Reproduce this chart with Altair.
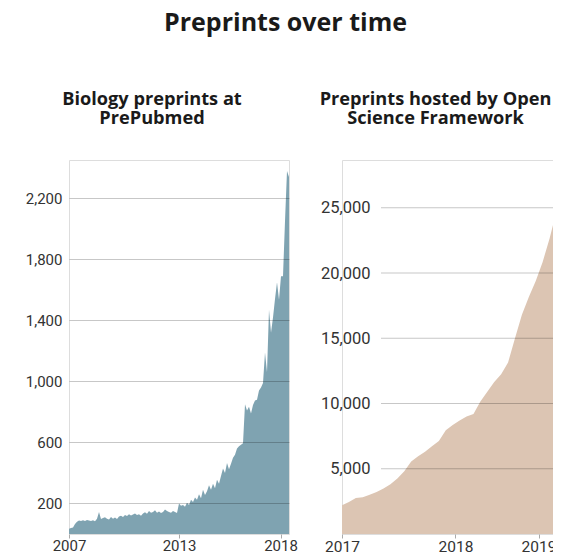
import altair as alt
import pandas as pd

# ---- Left panel: Biology preprints at PrePubmed (monthly counts, sampled) ----
left_vals = [35, 40, 42, 65, 80, 88, 85, 90, 86, 92, 88, 85, 90, 84, 100, 145,
             98, 105, 110, 100, 95, 112, 100, 108, 98, 115, 120, 112, 125, 118,
             130, 122, 128, 135, 125, 130, 120, 135, 142, 132, 150, 140, 145, 155,
             140, 148, 138, 145, 160, 150, 145, 140, 150, 145, 138, 200, 185, 190,
             178, 205, 190, 225, 210, 240, 225, 260, 235, 290, 255, 280, 320, 290,
             330, 300, 355, 330, 380, 430, 400, 465, 425, 460, 500, 520, 560, 575,
             585, 595, 850, 810, 835, 790, 845, 875, 880, 940, 960, 990, 1190, 1060,
             1470, 1320, 1420, 1540, 1650, 1535, 1690, 1690, 2050, 2380, 2340]
left_t = list(range(len(left_vals)))
left_tick_pos = [0, 55, 105.75]
left_tick_labels = ["2007", "2013", "2018"]
left_y_ticks = [200, 600, 1000, 1400, 1800, 2200]

# ---- Right panel: Preprints hosted by Open Science Framework (cumulative) ----
right_t = list(range(32)) + [31.65]
right_vals = [2200, 2460, 2750, 2820, 3000, 3220, 3480, 3820, 4260, 4800, 5550,
              5950, 6300, 6720, 7120, 7950, 8350, 8700, 9000, 9200, 10150, 10900,
              11650, 12250, 13150, 15000, 16800, 18160, 19380, 20850, 22650, 24750,
              26500]
right_tick_pos = [0, 16.4, 28.4]
right_tick_labels = ["2017", "2018", "2019"]
right_y_ticks = [5000, 10000, 15000, 20000, 25000]

FONT = "Roboto"
TFONT = "Open Sans"
LABEL_COLOR = "#333333"
TITLE_COLOR = "#1a1a1a"


def label_expr(pos, labels):
    expr = "''"
    for p, l in reversed(list(zip(pos, labels))):
        expr = f"datum.value == {p} ? '{l}' : ({expr})"
    return expr


df_left = pd.DataFrame({"t": left_t, "v": left_vals})
df_right = pd.DataFrame({"t": right_t, "v": right_vals})
df_grid = pd.DataFrame({"v": right_y_ticks})

left = alt.Chart(df_left).mark_area(color="#7fa3b1", clip=True).encode(
    x=alt.X("t:Q", title=None,
            scale=alt.Scale(domain=[0, 110], nice=False, zero=False),
            axis=alt.Axis(values=left_tick_pos, labelExpr=label_expr(left_tick_pos, left_tick_labels),
                          grid=False, domain=False, tickSize=4, tickColor="#aaaaaa",
                          labelFlush=False, labelOverlap=False, labelPadding=0,
                          labelFont=FONT, labelFontSize=15, labelColor=LABEL_COLOR)),
    y=alt.Y("v:Q", title=None,
            scale=alt.Scale(domain=[0, 2452], nice=False),
            axis=alt.Axis(values=left_y_ticks, format=",d", grid=True, gridColor="#000000",
                          gridOpacity=0.22, zindex=1, domain=False, ticks=False,
                          labelPadding=7, labelFont=FONT, labelFontSize=15,
                          labelColor=LABEL_COLOR)),
).properties(
    width=220, height=374,
    title=alt.TitleParams(["Biology preprints at", "PrePubmed"], anchor="middle", frame="group",
                          dx=-27, font=TFONT, fontSize=18.2, fontWeight="bold", color=TITLE_COLOR,
                          lineHeight=19.5, offset=31.5),
)

right_area = alt.Chart(df_right).mark_area(color="#dcc5b3", clip=True).encode(
    x=alt.X("t:Q", title=None,
            scale=alt.Scale(domain=[0, 31.65], nice=False, zero=False),
            axis=alt.Axis(values=right_tick_pos, labelExpr=label_expr(right_tick_pos, right_tick_labels),
                          grid=False, domain=False, tickSize=4, tickColor="#aaaaaa",
                          labelFlush=False, labelOverlap=False, labelPadding=1,
                          labelFont=FONT, labelFontSize=15.5, labelColor=LABEL_COLOR)),
    y=alt.Y("v:Q", title=None,
            scale=alt.Scale(domain=[0, 28660], nice=False),
            axis=alt.Axis(values=right_y_ticks, format=",d", grid=False, domain=False, ticks=False,
                          offset=-28, labelPadding=0, zindex=1, labelFont=FONT,
                          labelFontSize=16.5, labelColor=LABEL_COLOR)),
)

right_grid = alt.Chart(df_grid).mark_rule(color="#000000", opacity=0.22).encode(
    y=alt.Y("v:Q"),
    x=alt.value(39),
    x2=alt.value(219),
)

right = alt.layer(right_area, right_grid).properties(
    width=219, height=374,
    title=alt.TitleParams(["Preprints hosted by Open", "Science Framework"], anchor="middle",
                          frame="group", dx=-16, font=TFONT, fontSize=18.2, fontWeight="bold",
                          color=TITLE_COLOR, lineHeight=19.5, offset=31.5),
)

chart = alt.hconcat(left, right, spacing=53, bounds="flush").properties(
    title=alt.TitleParams("Preprints over time", anchor="middle", frame="group", dx=216.5,
                          font=TFONT, fontSize=25, fontWeight="bold", color=TITLE_COLOR,
                          offset=53),
    autosize=alt.AutoSizeParams(type="none"),
    padding={"left": 61, "top": 152, "right": 484, "bottom": 384},
).configure_view(stroke=None).configure(background="white")

chart.save("out.html", embed_options={"renderer": "svg", "actions": False})
